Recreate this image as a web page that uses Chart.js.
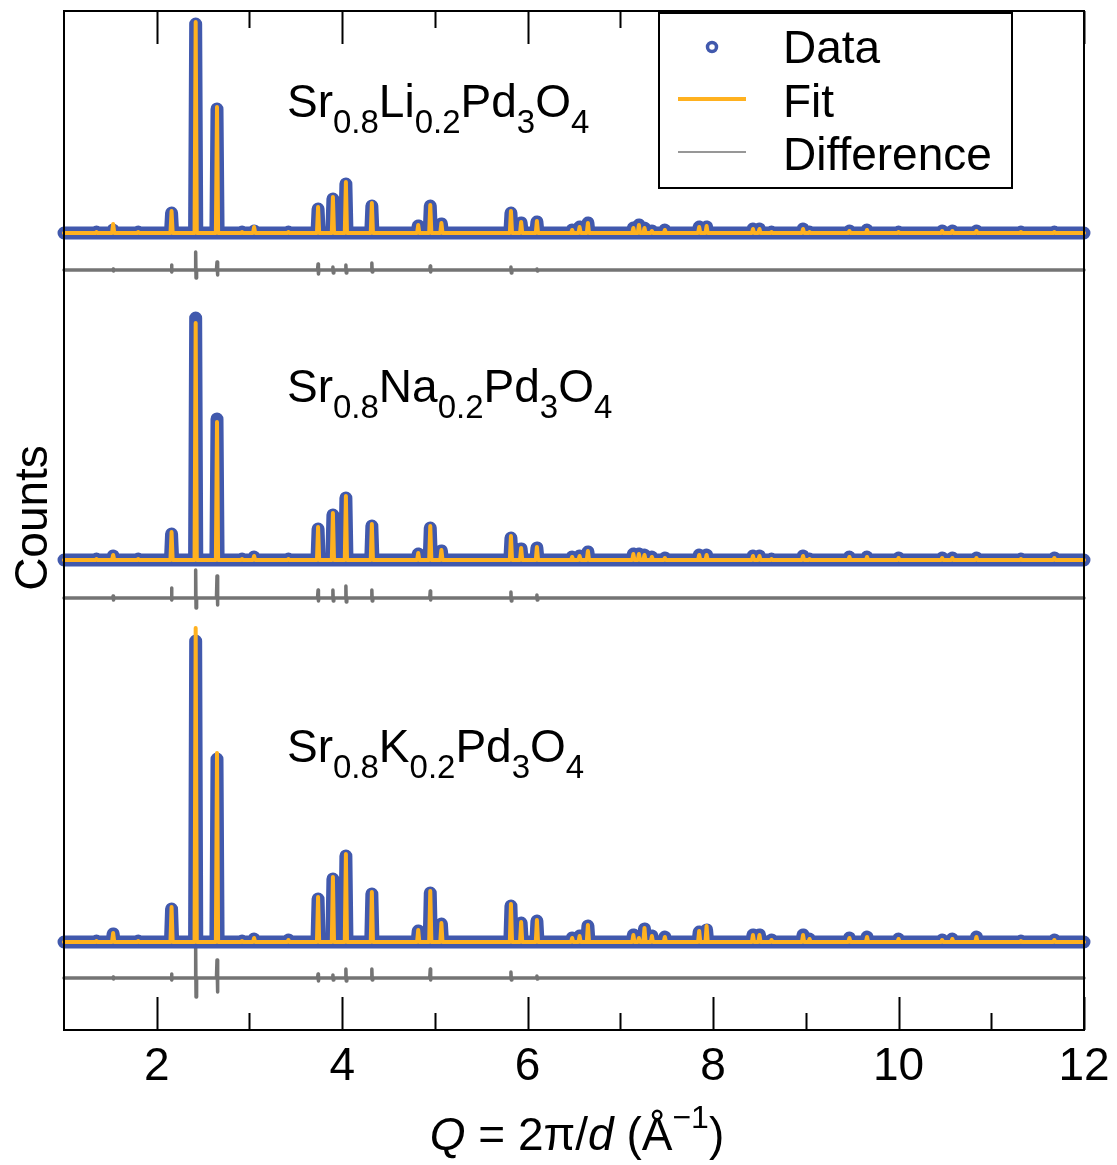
<!DOCTYPE html>
<html>
<head>
<meta charset="utf-8">
<title>Sr0.8A0.2Pd3O4 powder diffraction</title>
<script src="https://cdn.jsdelivr.net/npm/chart.js@4.4.0/dist/chart.umd.min.js"></script>
<style>
  html, body { margin: 0; padding: 0; background: #fff; }
  #wrap { width: 1117px; height: 1165px; }
</style>
</head>
<body>
<div id="wrap"><canvas id="myChart" width="1117" height="1165"></canvas></div>
<script>
// --- datos (Q en 1/Å, alturas en cuentas arbitrarias) ---
const peakQ = [1.35, 1.53, 1.80, 2.16, 2.42, 2.65, 2.92, 3.05, 3.42, 3.74, 3.90, 4.04, 4.32, 4.82, 4.95, 5.07,
  5.82, 5.93, 6.10, 6.48, 6.56, 6.65, 7.14, 7.20, 7.26, 7.34, 7.48, 7.85, 7.93, 8.43, 8.50, 8.63, 8.97, 9.04,
  9.47, 9.66, 10.00, 10.47, 10.58, 10.84, 11.32, 11.68]

// Sr0.8Li0.2Pd3O4
const dataLi = [1, 3, 1, 20, 209, 124, 1, 2, 1, 24, 34, 49, 27, 7, 27, 9, 20, 10, 11, 3, 6, 10, 5, 8, 5, 2, 3, 6, 6, 4, 4, 1, 4, 1, 2, 3, 1, 2, 2, 2, 1, 1]
const fitLi  = [1, 9, 1, 22, 211, 126, 1, 6, 1, 26, 36, 51, 30, 8, 28, 10, 22, 11, 12, 3, 6, 10, 5, 8, 5, 2, 3, 6, 7, 4, 4, 1, 4, 1, 2, 3, 1, 2, 2, 2, 1, 1]
// Sr0.8Na0.2Pd3O4
const dataNa = [1, 4, 1, 26, 242, 141, 1, 3, 1, 31, 45, 62, 34, 6, 32, 9, 22, 11, 12, 3, 4, 8, 6, 6, 5, 3, 2, 5, 5, 4, 4, 1, 4, 1, 3, 3, 2, 2, 2, 2, 1, 2]
const fitNa  = [1, 5, 1, 28, 237, 138, 1, 4, 1, 33, 47, 64, 36, 7, 34, 10, 24, 12, 13, 3, 4, 9, 6, 6, 5, 3, 2, 5, 5, 4, 4, 1, 4, 1, 3, 3, 2, 2, 2, 2, 1, 2]
// Sr0.8K0.2Pd3O4
const dataK = [1, 8, 1, 33, 301, 183, 1, 3, 2, 43, 63, 86, 48, 11, 49, 18, 36, 19, 21, 4, 6, 16, 7, 4, 13, 6, 5, 10, 12, 7, 7, 2, 7, 3, 4, 5, 3, 2, 3, 5, 1, 2]
const fitK  = [1, 9, 1, 35, 314, 189, 1, 4, 2, 45, 65, 88, 50, 12, 51, 19, 38, 20, 22, 4, 6, 17, 7, 4, 14, 6, 5, 11, 16, 7, 7, 2, 7, 3, 4, 5, 3, 2, 3, 5, 1, 2]

// diferencia: picos hacia arriba / abajo
const diffQ = [1.53, 2.16, 2.42, 2.65, 3.74, 3.90, 4.04, 4.32, 4.95, 5.82, 6.10]
const diffLiUp   = [1, 5, 18, 8, 6, 3, 5, 7, 4, 3, 1]
const diffLiDown = [1, 2, 8, 5, 4, 3, 3, 2, 2, 3, 1]
const diffNaUp   = [2, 10, 28, 22, 8, 8, 12, 8, 7, 6, 3]
const diffNaDown = [2, 2, 10, 7, 3, 3, 4, 3, 2, 3, 2]
const diffKUp    = [1, 4, 30, 18, 4, 3, 9, 9, 9, 6, 2]
const diffKDown  = [1, 2, 19, 14, 3, 2, 3, 2, 2, 2, 1]

// offsets verticales de cada patron
const offsetsData = [797, 470, 88]
const offsetsDiff = [760, 432, 52]
const compounds = [
  [['Sr', 0], ['0.8', 1], ['Li', 0], ['0.2', 1], ['Pd', 0], ['3', 1], ['O', 0], ['4', 1]],
  [['Sr', 0], ['0.8', 1], ['Na', 0], ['0.2', 1], ['Pd', 0], ['3', 1], ['O', 0], ['4', 1]],
  [['Sr', 0], ['0.8', 1], ['K', 0], ['0.2', 1], ['Pd', 0], ['3', 1], ['O', 0], ['4', 1]]
]
const xTicksMajor = [2, 4, 6, 8, 10, 12]
const xTicksMinor = [3, 5, 7, 9, 11]

//colores y fuentes
const blue = '#4159ad'
const orange = '#ffb11f'
const gray = '#747474'
const fontFamily = "'Liberation Sans', Arial, Helvetica, sans-serif"
const peakHalfWidth = 0.012

// funciones
function pattern(base, heights) {
  const pts = [{ x: 1, y: base }]
  peakQ.forEach((q, i) => {
    pts.push({ x: q - peakHalfWidth, y: base })
    pts.push({ x: q, y: base + heights[i] })
    pts.push({ x: q + peakHalfWidth, y: base })
  })
  pts.push({ x: 12, y: base })
  return pts
}

function difference(base, up, down) {
  const pts = [{ x: 1, y: base }]
  diffQ.forEach((q, i) => {
    pts.push({ x: q - 0.006, y: base })
    pts.push({ x: q, y: base + up[i] })
    pts.push({ x: q + 0.004, y: base - down[i] })
    pts.push({ x: q + 0.01, y: base })
  })
  pts.push({ x: 12, y: base })
  return pts
}

// order: numero mayor se dibuja primero (abajo)
function lineSet(label, data, color, width, order) {
  return {
    label, data, order,
    borderColor: color,
    backgroundColor: color,
    borderWidth: width,
    pointRadius: 0,
    borderJoinStyle: 'round',
    borderCapStyle: 'round',
    tension: 0,
    clip: false
  }
}

const allData = [dataLi, dataNa, dataK]
const allFit = [fitLi, fitNa, fitK]
const allUp = [diffLiUp, diffNaUp, diffKUp]
const allDown = [diffLiDown, diffNaDown, diffKDown]

const datasets = []
for (let i = 0; i < 3; i++) {
  datasets.push(lineSet('Difference', difference(offsetsDiff[i], allUp[i], allDown[i]), gray, 3.5, 3))
  datasets.push(lineSet('Data', pattern(offsetsData[i], allData[i]), blue, 13, 2))
  datasets.push(lineSet('Fit', pattern(offsetsData[i], allFit[i]), orange, 4, 1))
}

// texto con sub/superindices
function drawRich(ctx, x, y, parts, align) {
  const widths = parts.map(p => {
    ctx.font = `${p.italic ? 'italic ' : ''}${p.size}px ${fontFamily}`
    return ctx.measureText(p.t).width
  })
  const total = widths.reduce((a, b) => a + b, 0)
  let cx = align === 'center' ? x - total / 2 : x
  parts.forEach((p, i) => {
    ctx.font = `${p.italic ? 'italic ' : ''}${p.size}px ${fontFamily}`
    ctx.fillText(p.t, cx, y + (p.dy || 0))
    cx += widths[i]
  })
}

const decor = {
  id: 'decor',
  afterDatasetsDraw(chart) {
    const { ctx, chartArea: a, scales: { x } } = chart
    ctx.save()
    ctx.fillStyle = '#000'
    ctx.strokeStyle = '#000'
    ctx.textBaseline = 'alphabetic'

    // marco
    ctx.lineWidth = 2
    ctx.strokeRect(a.left, a.top, a.right - a.left, a.bottom - a.top)

    // ticks hacia adentro arriba y abajo
    const tick = (v, len) => {
      const px = Math.round(x.getPixelForValue(v)) + 0.5
      ctx.beginPath()
      ctx.moveTo(px, a.bottom); ctx.lineTo(px, a.bottom - len)
      ctx.moveTo(px, a.top); ctx.lineTo(px, a.top + len)
      ctx.stroke()
    }
    xTicksMajor.forEach(v => tick(v, 33))
    xTicksMinor.forEach(v => tick(v, 17))

    // etiquetas del eje x
    ctx.textAlign = 'center'
    ctx.font = `46px ${fontFamily}`
    xTicksMajor.forEach(v => ctx.fillText(String(v), x.getPixelForValue(v), 1080))
    ctx.textAlign = 'left'
    drawRich(ctx, (a.left + a.right) / 2 + 3, 1150, [
      { t: 'Q', size: 46, italic: true },
      { t: ' = 2π/', size: 46 },
      { t: 'd', size: 46, italic: true },
      { t: ' (Å', size: 46 },
      { t: '−1', size: 32, dy: -22 },
      { t: ')', size: 46 }
    ], 'center')

    // eje y
    ctx.save()
    ctx.translate(47, 518)
    ctx.rotate(-Math.PI / 2)
    ctx.textAlign = 'center'
    ctx.font = `46px ${fontFamily}`
    ctx.fillText('Counts', 0, 0)
    ctx.restore()

    // nombres de compuestos
    const labelY = [117, 402, 762]
    compounds.forEach((c, i) => {
      drawRich(ctx, 287, labelY[i], c.map(([t, sub]) => (
        sub ? { t, size: 33, dy: 16 } : { t, size: 46 }
      )))
    })

    // leyenda
    ctx.fillStyle = '#fff'
    ctx.fillRect(659, 13, 353, 175)
    ctx.lineWidth = 2
    ctx.strokeRect(659, 13, 353, 175)
    ctx.strokeStyle = blue
    ctx.lineWidth = 3.5
    ctx.beginPath()
    ctx.arc(712, 47, 4.5, 0, Math.PI * 2)
    ctx.stroke()
    ctx.strokeStyle = orange
    ctx.lineWidth = 4
    ctx.beginPath(); ctx.moveTo(678, 99); ctx.lineTo(746, 99); ctx.stroke()
    ctx.strokeStyle = gray
    ctx.lineWidth = 1.5
    ctx.beginPath(); ctx.moveTo(678, 152); ctx.lineTo(746, 152); ctx.stroke()
    ctx.fillStyle = '#000'
    ctx.font = `46px ${fontFamily}`
    ctx.fillText('Data', 783, 63)
    ctx.fillText('Fit', 783, 117)
    ctx.fillText('Difference', 783, 170)
    ctx.restore()
  }
}

const ctx = document.getElementById('myChart').getContext('2d')
const myChart = new Chart(ctx, {
  type: 'line',
  data: { datasets },
  options: {
    responsive: false,
    animation: false,
    devicePixelRatio: 1,
    parsing: false,
    layout: { padding: { left: 64, right: 33, top: 11, bottom: 135 } },
    plugins: { legend: { display: false }, tooltip: { enabled: false } },
    scales: {
      x: { type: 'linear', min: 1, max: 12, display: false },
      y: { type: 'linear', min: 0, max: 1019, display: false }
    }
  },
  plugins: [decor]
})
</script>
</body>
</html>
